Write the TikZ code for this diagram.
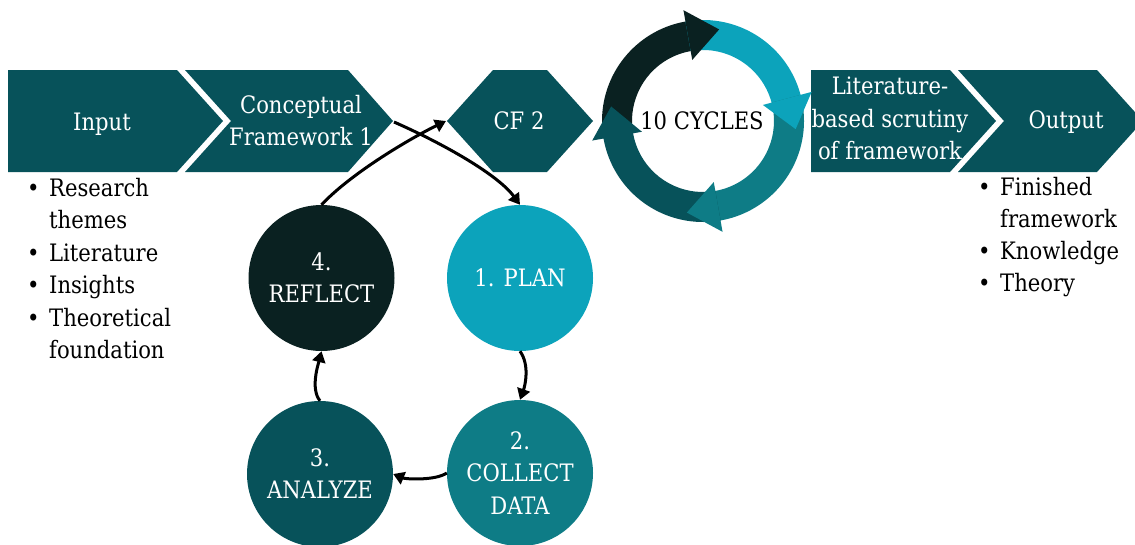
\documentclass[tikz,border=0pt]{standalone}
\usepackage{fontspec}
\setmainfont{DejaVu Serif}[FakeStretch=0.88]
\usetikzlibrary{arrows.meta}
\definecolor{tealdark}{HTML}{07525A}
\definecolor{tealmid}{HTML}{0E7C86}
\definecolor{teallight}{HTML}{0CA3BB}
\definecolor{nearblack}{HTML}{0A2121}
\newcommand\bulletline[1]{\makebox[22pt][l]{\textbullet}#1}
\newcommand\contline[1]{\hspace*{22pt}#1}
\begin{document}
\begin{tikzpicture}[x=1pt,y=-1pt,
  basefont/.style={font=\fontsize{24}{32.5}\selectfont},
  txt/.style={basefont, text=white, inner sep=0pt, align=center},
  listline/.style={basefont, text=black, inner sep=0pt, anchor=base west},
  stage/.style={basefont, circle, minimum size=146pt, inner sep=0pt, text=white, align=center},
  conn/.style={line width=3pt, -{Triangle[length=11pt,width=13pt]}},
]
\useasboundingbox (0,0) rectangle (1135,544);

% process chevrons
\fill[tealdark] (8,70) -- (177,70) -- (223,121) -- (177,172) -- (8,172) -- cycle;
\fill[tealdark] (185,70) -- (348,70) -- (393,121) -- (348,172) -- (185,172) -- (231,121) -- cycle;
\fill[tealdark] (447,121) -- (493,70) -- (547,70) -- (593,121) -- (547,172) -- (493,172) -- cycle;
\fill[tealdark] (811,70) -- (950,70) -- (996,121) -- (950,172) -- (811,172) -- cycle;
\fill[tealdark] (958,70) -- (1097,70) -- (1143,121) -- (1097,172) -- (958,172) -- (1004,121) -- cycle;
\coordinate (cf1tip) at (394,122);
\coordinate (cf2tip) at (446,121);

\node[txt, anchor=base] (input) at (102,130) {Input};
\node[txt] (cf1) at (301,120.5) {Conceptual\\Framework 1};
\node[txt, anchor=base] (cf2) at (519,129) {CF 2};
\node[txt] (lit) at (890,118.5) {Literature-\\based scrutiny\\of framework};
\node[txt, anchor=base] (output) at (1066,128) {Output};

% cycle ring: four curved arrows, bodies first, then heads on top
\begin{scope}[shift={(703,121)}, yscale=-1]
  \fill[nearblack] (190:101) arc[start angle=190, end angle=97, radius=101] -- (97:71) arc[start angle=97, end angle=190, radius=71] -- cycle;
  \fill[teallight] (100:101) arc[start angle=100, end angle=12, radius=101] -- (12:71) arc[start angle=12, end angle=100, radius=71] -- cycle;
  \fill[tealmid] (15:101) arc[start angle=15, end angle=-83, radius=101] -- (-83:71) arc[start angle=-83, end angle=15, radius=71] -- cycle;
  \fill[tealdark] (-80:101) arc[start angle=-80, end angle=-173, radius=101] -- (-173:71) arc[start angle=-173, end angle=-80, radius=71] -- cycle;
  \fill[nearblack] (100:112.5) -- (80:93) -- (100:62) -- cycle;
  \fill[teallight] (15:112.5) -- (-5:93) -- (15:62) -- cycle;
  \fill[tealmid] (-80:112.5) -- (-100:93) -- (-80:62) -- cycle;
  \fill[tealdark] (-170:112.5) -- (-189:93) -- (-170:62) -- cycle;
\end{scope}
\node[basefont, text=black, inner sep=0pt, anchor=base] (cycles) at (702,129) {10 CYCLES};

% action research stages
\node[stage, fill=nearblack] (reflect) at (321.5,278) {4.\\REFLECT};
\node[stage, fill=teallight] (plan) at (520,278) {1. PLAN};
\node[stage, fill=tealmid] (collect) at (520,473) {2.\\COLLECT\\DATA};
\node[stage, fill=tealdark] (analyze) at (320,474) {3.\\ANALYZE};

% connectors
\draw[conn] (cf1tip) .. controls +(50,22) and +(-22,-30) .. (plan.north);
\draw[conn] (reflect.north) .. controls +(30,-32) and +(-35,17) .. (cf2tip);
\draw[conn] (plan.south) .. controls +(10,14) and +(5,-14) .. (collect.north);
\draw[conn] (collect.west) .. controls +(-12,8) and +(12,5) .. (analyze.east);
\draw[conn] (analyze.north) .. controls +(-10,-12) and +(-3,12) .. (reflect.south);

% input and output lists
\node[listline] (in1) at (27,196) {\bulletline{Research}};
\node[listline] (in2) at (27,228.5) {\contline{themes}};
\node[listline] (in3) at (27,261) {\bulletline{Literature}};
\node[listline] (in4) at (27,293.5) {\bulletline{Insights}};
\node[listline] (in5) at (27,326) {\bulletline{Theoretical}};
\node[listline] (in6) at (27,358.5) {\contline{foundation}};
\node[listline] (out1) at (978,195) {\bulletline{Finished}};
\node[listline] (out2) at (978,227) {\contline{framework}};
\node[listline] (out3) at (978,259) {\bulletline{Knowledge}};
\node[listline] (out4) at (978,291) {\bulletline{Theory}};
\end{tikzpicture}
\end{document}
